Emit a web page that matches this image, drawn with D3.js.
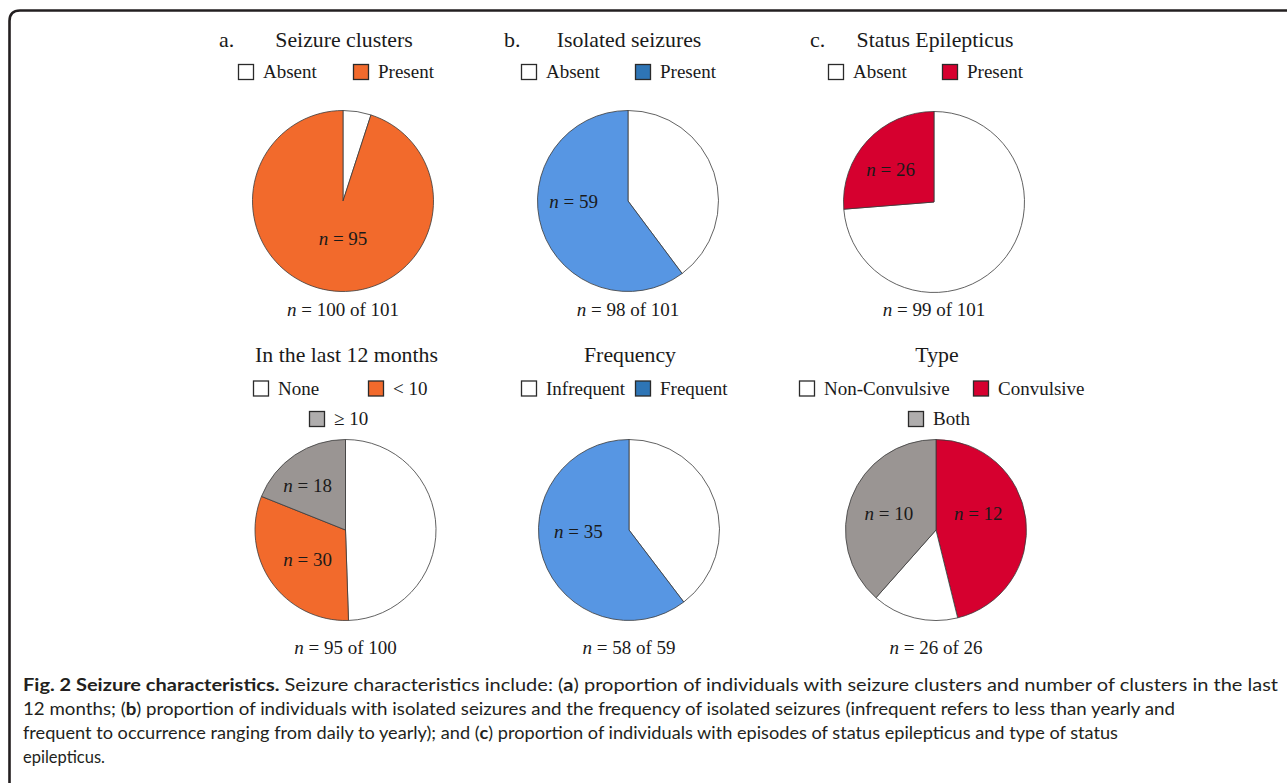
<!DOCTYPE html>
<html>
<head>
<meta charset="utf-8">
<script src="https://cdn.jsdelivr.net/npm/d3@7"></script>
<style>
  html, body { margin: 0; padding: 0; background: #fff; }
  svg { display: block; }
</style>
</head>
<body>
<svg id="fig" width="1287" height="783"></svg>
<script>
// ---- Data -------------------------------------------------------------
const panelTitles = ["Seizure clusters", "Isolated seizures", "Status Epilepticus",
                     "In the last 12 months", "Frequency", "Type"];
const panelLetters = ["a.", "b.", "c.", "", "", ""];

const clusterCats  = ["Absent", "Present"];
const clusterVals  = [5, 95];
const isolatedCats = ["Absent", "Present"];
const isolatedVals = [39, 59];
const statusCats   = ["Absent", "Present"];
const statusVals   = [73, 26];
const last12Cats   = ["None", "< 10", "\u2265 10"];
const last12Vals   = [47, 30, 18];
const freqCats     = ["Infrequent", "Frequent"];
const freqVals     = [23, 35];
const typeCats     = ["Non-Convulsive", "Convulsive", "Both"];
const typeVals     = [4, 12, 10];

// group size each panel is drawn from ("n = x of N")
const cohortSizes = [101, 101, 101, 100, 59, 26];

// ---- Styling ------------------------------------------------------------
const WHITE = "#ffffff", ORANGE = "#f26a2c", BLUE = "#5796e3", BLUE_KEY = "#2e75b6",
      RED = "#d6002f", GREY = "#9a9593", GREY_KEY = "#afadad";

const panels = [
  { cats: clusterCats,  vals: clusterVals,  fill: [WHITE, ORANGE], key: [WHITE, ORANGE] },
  { cats: isolatedCats, vals: isolatedVals, fill: [WHITE, BLUE],   key: [WHITE, BLUE_KEY] },
  { cats: statusCats,   vals: statusVals,   fill: [WHITE, RED],    key: [WHITE, RED] },
  { cats: last12Cats,   vals: last12Vals,   fill: [WHITE, ORANGE, GREY], key: [WHITE, ORANGE, GREY_KEY] },
  { cats: freqCats,     vals: freqVals,     fill: [WHITE, BLUE],   key: [WHITE, BLUE_KEY] },
  { cats: typeCats,     vals: typeVals,     fill: [WHITE, RED, GREY], key: [WHITE, RED, GREY_KEY] }
];

// Placement of each panel: centre, legend entries (dx from centre, row),
// clockwise slice order and in-slice label spots (angle in degrees, fraction of radius).
const R = 90.5;
const layout = [
  { cx: 343,   cy: 201, top: true,  legend: [[-105, 0], [10, 0]],
    order: [0, 1],    labels: [null, [180, 0.41]] },
  { cx: 628,   cy: 201, top: true,  legend: [[-107, 0], [7, 0]],
    order: [0, 1],    labels: [null, [270, 0.60]] },
  { cx: 934,   cy: 202, top: true,  legend: [[-106, 0], [8, 0]],
    order: [0, 1],    labels: [null, [307, 0.60]] },
  { cx: 345.5, cy: 530, top: false, legend: [[-92.5, 0], [22.5, 0], [-36.5, 1]],
    order: [0, 1, 2], labels: [null, [232, 0.53], [320, 0.65]] },
  { cx: 629,   cy: 530, top: false, legend: [[-108, 0], [6, 0]],
    order: [0, 1],    labels: [null, [269, 0.56]] },
  { cx: 936,   cy: 530, top: false, legend: [[-137, 0], [37, 0], [-28, 1]],
    order: [1, 0, 2], labels: [null, [69, 0.50], [289, 0.55]] }
];

const SERIF = "'Liberation Serif', 'Times New Roman', Times, serif";
const SANS  = "Lato, 'Open Sans', 'Noto Sans', sans-serif";
const INK = "#1a1a1a";

const svg = d3.select("#fig");

// Frame with a rounded top-left corner
svg.append("path")
  .attr("d", "M9.5,783 V21 Q9.5,10.5 20,10.5 H1287")
  .attr("fill", "none").attr("stroke", "#231f20").attr("stroke-width", 2.6);

const pie = d3.pie().sort(null).value(d => d.value);
const arc = d3.arc().innerRadius(0).outerRadius(R);

panels.forEach((p, i) => {
  const L = layout[i];
  const g = svg.append("g");
  const titleY   = L.top ? 47 : 362;
  const legendY  = L.top ? [72] : [388.5, 419];
  const totalY   = L.top ? 316 : 654;

  // panel letter and title
  if (panelLetters[i]) {
    g.append("text").attr("x", L.cx - 124).attr("y", titleY)
      .attr("font-family", SERIF).attr("font-size", 22).attr("fill", INK)
      .text(panelLetters[i]);
  }
  g.append("text").attr("x", L.cx + 1).attr("y", titleY)
    .attr("text-anchor", "middle")
    .attr("font-family", SERIF).attr("font-size", 21.8).attr("fill", INK)
    .text(panelTitles[i]);

  // legend
  p.cats.forEach((c, k) => {
    const [dx, row] = L.legend[k];
    const x = L.cx + dx, yc = legendY[row];
    g.append("rect").attr("x", x + 0.5).attr("y", yc - 7.5)
      .attr("width", 15).attr("height", 15)
      .attr("fill", p.key[k]).attr("stroke", "#2a2a2a").attr("stroke-width", 1.3);
    g.append("text").attr("x", x + 25).attr("y", yc + 6)
      .attr("font-family", SERIF).attr("font-size", 19).attr("fill", INK)
      .text(c);
  });

  // slices, drawn clockwise from 12 o'clock in the panel's order
  const rows = L.order.map(k => ({ k, cat: p.cats[k], value: p.vals[k] }));
  const arcs = pie(rows);
  const pg = g.append("g").attr("transform", `translate(${L.cx},${L.cy})`);
  pg.selectAll("path").data(arcs).join("path")
    .attr("d", arc)
    .attr("fill", d => p.fill[d.data.k])
    .attr("stroke", "#3a3a3a").attr("stroke-width", 0.8)
    .attr("stroke-linejoin", "round");

  // in-slice counts
  arcs.forEach(a => {
    const spot = L.labels[a.data.k];
    if (!spot) return;
    const ang = spot[0] * Math.PI / 180, dist = spot[1] * R;
    const t = pg.append("text")
      .attr("x", dist * Math.sin(ang)).attr("y", -dist * Math.cos(ang))
      .attr("dy", "0.35em").attr("text-anchor", "middle")
      .attr("font-family", SERIF).attr("font-size", 19).attr("fill", INK);
    t.append("tspan").attr("font-style", "italic").text("n");
    t.append("tspan").text(" = " + a.data.value);
  });

  // total answered
  const total = d3.sum(p.vals);
  const tt = g.append("text").attr("x", L.cx).attr("y", totalY)
    .attr("text-anchor", "middle")
    .attr("font-family", SERIF).attr("font-size", 19).attr("fill", INK);
  tt.append("tspan").attr("font-style", "italic").text("n");
  tt.append("tspan").text(` = ${total} of ${cohortSizes[i]}`);
});

// ---- Caption ----------------------------------------------------------
const captionLines = [
  { w: 1255, parts: [["Fig. 2 Seizure characteristics.", true],
                     [" Seizure characteristics include: (", false], ["a", true],
                     [") proportion of individuals with seizure clusters and number of clusters in the last", false]] },
  { w: 1152, parts: [["12 months; (", false], ["b", true],
                     [") proportion of individuals with isolated seizures and the frequency of isolated seizures (infrequent refers to less than yearly and", false]] },
  { w: 1095, parts: [["frequent to occurrence ranging from daily to yearly); and (", false], ["c", true],
                     [") proportion of individuals with episodes of status epilepticus and type of status", false]] },
  { w: null, parts: [["epilepticus.", false]] }
];
captionLines.forEach((line, j) => {
  const t = svg.append("text")
    .attr("x", 23).attr("y", 691 + j * 24)
    .attr("font-family", SANS).attr("font-size", 16.5).attr("fill", "#231f20");
  if (line.w) t.attr("textLength", line.w).attr("lengthAdjust", "spacingAndGlyphs");
  line.parts.forEach(([s, bold]) => {
    t.append("tspan").attr("font-weight", bold ? 700 : 400).text(s);
  });
});
</script>
</body>
</html>
